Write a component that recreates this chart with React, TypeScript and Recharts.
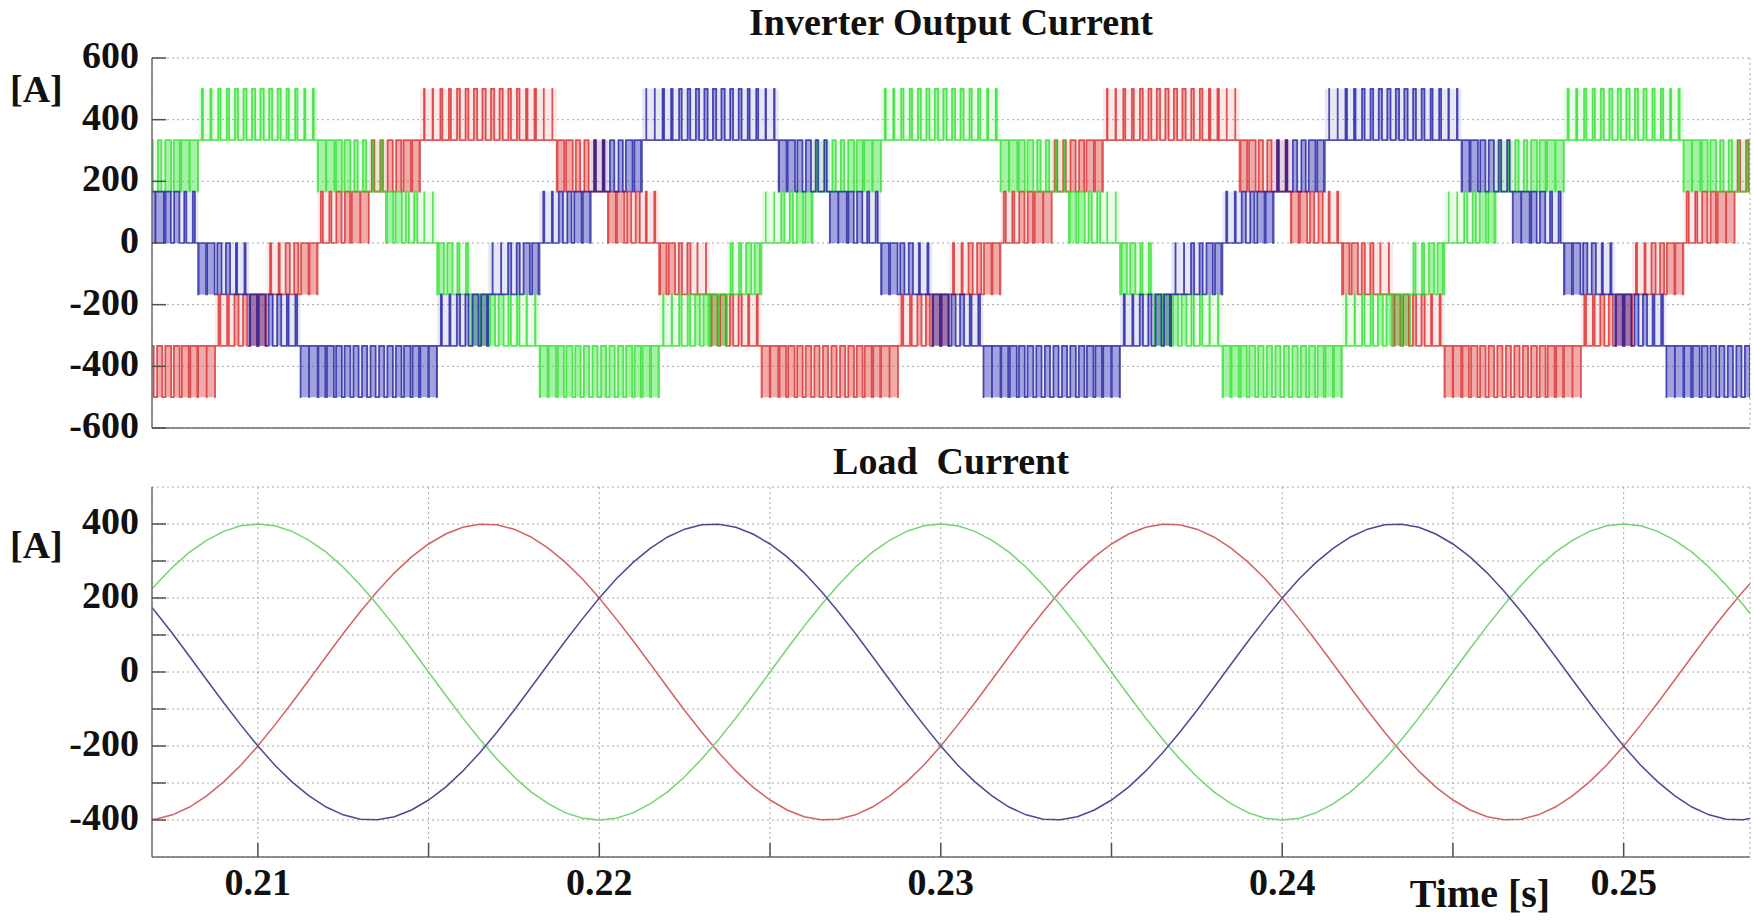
import React from 'react';
import { ComposedChart, LineChart, Line, Area, XAxis, YAxis, CartesianGrid } from 'recharts';

const FONT = "'Liberation Serif', 'Times New Roman', serif";

// sample instants, 0.5 ms apart [s]
const TIME = [
  0.2065, 0.207, 0.2075, 0.208, 0.2085, 0.209, 0.2095, 0.21, 0.2105, 0.211,
  0.2115, 0.212, 0.2125, 0.213, 0.2135, 0.214, 0.2145, 0.215, 0.2155, 0.216,
  0.2165, 0.217, 0.2175, 0.218, 0.2185, 0.219, 0.2195, 0.22, 0.2205, 0.221,
  0.2215, 0.222, 0.2225, 0.223, 0.2235, 0.224, 0.2245, 0.225, 0.2255, 0.226,
  0.2265, 0.227, 0.2275, 0.228, 0.2285, 0.229, 0.2295, 0.23, 0.2305, 0.231,
  0.2315, 0.232, 0.2325, 0.233, 0.2335, 0.234, 0.2345, 0.235, 0.2355, 0.236,
  0.2365, 0.237, 0.2375, 0.238, 0.2385, 0.239, 0.2395, 0.24, 0.2405, 0.241,
  0.2415, 0.242, 0.2425, 0.243, 0.2435, 0.244, 0.2445, 0.245, 0.2455, 0.246,
  0.2465, 0.247, 0.2475, 0.248, 0.2485, 0.249, 0.2495, 0.25, 0.2505, 0.251,
  0.2515, 0.252, 0.2525, 0.253, 0.2535, 0.254,
];

// load currents per phase [A]
const PHASE_RED = [
  -399, -398, -386, -365, -335, -297, -252, -200, -143, -83,
  -21, 42, 104, 163, 218, 268, 311, 346, 373, 391,
  399, 398, 386, 365, 335, 297, 252, 200, 143, 83,
  21, -42, -104, -163, -218, -268, -311, -346, -373, -391,
  -399, -398, -386, -365, -335, -297, -252, -200, -143, -83,
  -21, 42, 104, 163, 218, 268, 311, 346, 373, 391,
  399, 398, 386, 365, 335, 297, 252, 200, 143, 83,
  21, -42, -104, -163, -218, -268, -311, -346, -373, -391,
  -399, -398, -386, -365, -335, -297, -252, -200, -143, -83,
  -21, 42, 104, 163, 218, 268,
];

const PHASE_GREEN = [
  182, 235, 283, 324, 356, 380, 395, 400, 395, 380,
  356, 324, 283, 235, 182, 124, 63, 0, -63, -124,
  -182, -235, -283, -324, -356, -380, -395, -400, -395, -380,
  -356, -324, -283, -235, -182, -124, -63, 0, 63, 124,
  182, 235, 283, 324, 356, 380, 395, 400, 395, 380,
  356, 324, 283, 235, 182, 124, 63, 0, -63, -124,
  -182, -235, -283, -324, -356, -380, -395, -400, -395, -380,
  -356, -324, -283, -235, -182, -124, -63, 0, 63, 124,
  182, 235, 283, 324, 356, 380, 395, 400, 395, 380,
  356, 324, 283, 235, 182, 124,
];

const PHASE_BLUE = [
  218, 163, 104, 42, -21, -83, -143, -200, -252, -297,
  -335, -365, -386, -398, -399, -391, -373, -346, -311, -268,
  -218, -163, -104, -42, 21, 83, 143, 200, 252, 297,
  335, 365, 386, 398, 399, 391, 373, 346, 311, 268,
  218, 163, 104, 42, -21, -83, -143, -200, -252, -297,
  -335, -365, -386, -398, -399, -391, -373, -346, -311, -268,
  -218, -163, -104, -42, 21, 83, 143, 200, 252, 297,
  335, 365, 386, 398, 399, 391, 373, 346, 311, 268,
  218, 163, 104, 42, -21, -83, -143, -200, -252, -297,
  -335, -365, -386, -398, -399, -391,
];

const TIME_TICKS = [0.21, 0.215, 0.22, 0.225, 0.23, 0.235, 0.24, 0.245, 0.25];
const TIME_LABELS = ['0.21', '', '0.22', '', '0.23', '', '0.24', '', '0.25'];
const INV_TICKS = [-600, -400, -200, 0, 200, 400, 600];
const INV_LABELS = ['-600', '-400', '-200', '0', '200', '400', '600'];
const LOAD_TICKS = [-400, -300, -200, -100, 0, 100, 200, 300, 400];
const LOAD_LABELS = ['-400', '', '-200', '', '0', '', '200', '', '400'];

const TIME_DOMAIN = [0.2069, 0.2537];

// converter current steps are multiples of a third of 500 A
const LEVEL_STEP = 500 / 3;
// two carrier periods per 0.5 ms sample
const CARRIER = 0.00025;

// centre-aligned pulses between the two levels around each sample.
// `pulse` spans the lower level up to the current, `band` the whole step
function switchedCurrent(load: number[]) {
  const pts: { t: number; i: number; pulse: number[]; band: number[] }[] = [];
  load.forEach((ref, k) => {
    const lo = Math.floor(ref / LEVEL_STEP) * LEVEL_STEP;
    const hi = lo + LEVEL_STEP;
    const half = (((ref - lo) / LEVEL_STEP) * CARRIER) / 2;
    for (let h = 0; h < 2; h++) {
      const start = TIME[k] - CARRIER + h * CARRIER;
      const mid = start + CARRIER / 2;
      pts.push({ t: start, i: lo, pulse: [lo, lo], band: [lo, hi] });
      pts.push({ t: mid - half, i: hi, pulse: [lo, hi], band: [lo, hi] });
      pts.push({ t: mid + half, i: lo, pulse: [lo, lo], band: [lo, hi] });
    }
  });
  return pts;
}

const INV_RED = switchedCurrent(PHASE_RED);
const INV_GREEN = switchedCurrent(PHASE_GREEN);
const INV_BLUE = switchedCurrent(PHASE_BLUE);

const LOAD_ROWS = TIME.map((t, k) => ({
  t,
  red: PHASE_RED[k],
  green: PHASE_GREEN[k],
  blue: PHASE_BLUE[k],
}));

const textStyle = { fontFamily: FONT, fontWeight: 700, fontSize: 38, fill: '#111' };
const frame = { stroke: '#6e6e6e', strokeWidth: 1.5 };
const tickMark = { stroke: '#505050', strokeWidth: 1.5 };

function valueTick(ticks: number[], labels: string[]) {
  return (props: any) => {
    const label = labels[ticks.indexOf(props.payload.value)];
    if (!label) return <g />;
    return (
      <text x={props.x} y={props.y + 10} textAnchor="end" style={textStyle}>
        {label}
      </text>
    );
  };
}

function timeTick(props: any) {
  const label = TIME_LABELS[TIME_TICKS.indexOf(props.payload.value)];
  if (!label) return <g />;
  return (
    <text x={props.x} y={props.y + 28} textAnchor="middle" style={textStyle}>
      {label}
    </text>
  );
}

function InverterChart() {
  const series = [
    { key: 'r', data: INV_RED, color: '#d62626', fill: '#e04c4c' },
    { key: 'g', data: INV_GREEN, color: '#2cdc2c', fill: '#3ee63e' },
    { key: 'b', data: INV_BLUE, color: '#1a1a9c', fill: '#3c3cbc' },
  ];
  return (
    <ComposedChart width={1754} height={470} margin={{ top: 58, right: 4, bottom: 0, left: 0 }}>
      <CartesianGrid stroke="#a8a8a8" strokeDasharray="2 3" />
      <XAxis
        dataKey="t"
        type="number"
        domain={TIME_DOMAIN}
        allowDataOverflow
        ticks={TIME_TICKS}
        interval={0}
        height={42}
        tick={false}
        tickSize={-14}
        axisLine={frame}
        tickLine={tickMark}
      />
      <XAxis
        xAxisId="top"
        orientation="top"
        type="number"
        domain={TIME_DOMAIN}
        allowDataOverflow
        ticks={TIME_TICKS}
        interval={0}
        height={0}
        tick={false}
        tickSize={-14}
        axisLine={frame}
        tickLine={tickMark}
      />
      <YAxis
        type="number"
        domain={[-600, 600]}
        allowDataOverflow
        ticks={INV_TICKS}
        interval={0}
        width={152}
        tickSize={-14}
        tickMargin={27}
        tick={valueTick(INV_TICKS, INV_LABELS)}
        axisLine={frame}
        tickLine={tickMark}
      />
      <YAxis
        yAxisId="right"
        orientation="right"
        type="number"
        domain={[-600, 600]}
        allowDataOverflow
        ticks={INV_TICKS}
        interval={0}
        width={0}
        tick={false}
        tickSize={-14}
        axisLine={frame}
        tickLine={tickMark}
      />
      {series.map((s) => (
        <Area
          key={`${s.key}-band`}
          data={s.data}
          dataKey="band"
          type="stepAfter"
          stroke="none"
          fill={s.fill}
          fillOpacity={0.12}
          dot={false}
          activeDot={false}
          isAnimationActive={false}
        />
      ))}
      {series.map((s) => (
        <Area
          key={`${s.key}-pulse`}
          data={s.data}
          dataKey="pulse"
          type="stepAfter"
          stroke="none"
          fill={s.fill}
          fillOpacity={0.4}
          dot={false}
          activeDot={false}
          isAnimationActive={false}
        />
      ))}
      {series.map((s) => (
        <Line
          key={s.key}
          data={s.data}
          dataKey="i"
          type="stepAfter"
          stroke={s.color}
          strokeWidth={1.7}
          strokeOpacity={0.75}
          dot={false}
          activeDot={false}
          isAnimationActive={false}
        />
      ))}
    </ComposedChart>
  );
}

function LoadChart() {
  const series = [
    { key: 'red', color: '#d46262' },
    { key: 'green', color: '#74d474' },
    { key: 'blue', color: '#4a4a94' },
  ];
  return (
    <LineChart
      width={1754}
      height={484}
      data={LOAD_ROWS}
      margin={{ top: 47, right: 4, bottom: 0, left: 0 }}
    >
      <CartesianGrid stroke="#a8a8a8" strokeDasharray="2 3" />
      <XAxis
        dataKey="t"
        type="number"
        domain={TIME_DOMAIN}
        allowDataOverflow
        ticks={TIME_TICKS}
        interval={0}
        height={67}
        tickSize={-14}
        tickMargin={24}
        tick={timeTick}
        axisLine={frame}
        tickLine={tickMark}
      />
      <XAxis
        xAxisId="top"
        orientation="top"
        type="number"
        domain={TIME_DOMAIN}
        allowDataOverflow
        ticks={TIME_TICKS}
        interval={0}
        height={0}
        tick={false}
        tickSize={-14}
        axisLine={frame}
        tickLine={tickMark}
      />
      <YAxis
        type="number"
        domain={[-500, 500]}
        allowDataOverflow
        ticks={LOAD_TICKS}
        interval={0}
        width={152}
        tickSize={-14}
        tickMargin={27}
        tick={valueTick(LOAD_TICKS, LOAD_LABELS)}
        axisLine={frame}
        tickLine={tickMark}
      />
      <YAxis
        yAxisId="right"
        orientation="right"
        type="number"
        domain={[-500, 500]}
        allowDataOverflow
        ticks={LOAD_TICKS}
        interval={0}
        width={0}
        tick={false}
        tickSize={-14}
        axisLine={frame}
        tickLine={tickMark}
      />
      {series.map((s) => (
        <Line
          key={s.key}
          dataKey={s.key}
          type="linear"
          stroke={s.color}
          strokeWidth={1.5}
          dot={false}
          activeDot={false}
          isAnimationActive={false}
        />
      ))}
    </LineChart>
  );
}

const label = (extra: React.CSSProperties): React.CSSProperties => ({
  position: 'absolute',
  fontFamily: FONT,
  fontWeight: 700,
  fontSize: 38,
  lineHeight: '38px',
  color: '#111',
  whiteSpace: 'pre',
  ...extra,
});

export default function App() {
  return (
    <div
      style={{
        position: 'absolute',
        left: 0,
        top: 0,
        width: 1754,
        height: 924,
        background: '#fff',
        overflow: 'hidden',
      }}
    >
      <div style={{ position: 'absolute', left: 0, top: 0 }}>
        <InverterChart />
      </div>
      <div style={{ position: 'absolute', left: 0, top: 440 }}>
        <LoadChart />
      </div>
      <div style={label({ left: 152, width: 1598, top: 3, textAlign: 'center' })}>
        Inverter Output Current
      </div>
      <div style={label({ left: 152, width: 1598, top: 442, textAlign: 'center' })}>
        {'Load  Current'}
      </div>
      <div style={label({ left: 10, top: 70 })}>[A]</div>
      <div style={label({ left: 10, top: 526 })}>[A]</div>
      <div style={label({ left: 1380, width: 200, top: 874, fontSize: 40, lineHeight: '40px', textAlign: 'center' })}>
        Time [s]
      </div>
    </div>
  );
}
